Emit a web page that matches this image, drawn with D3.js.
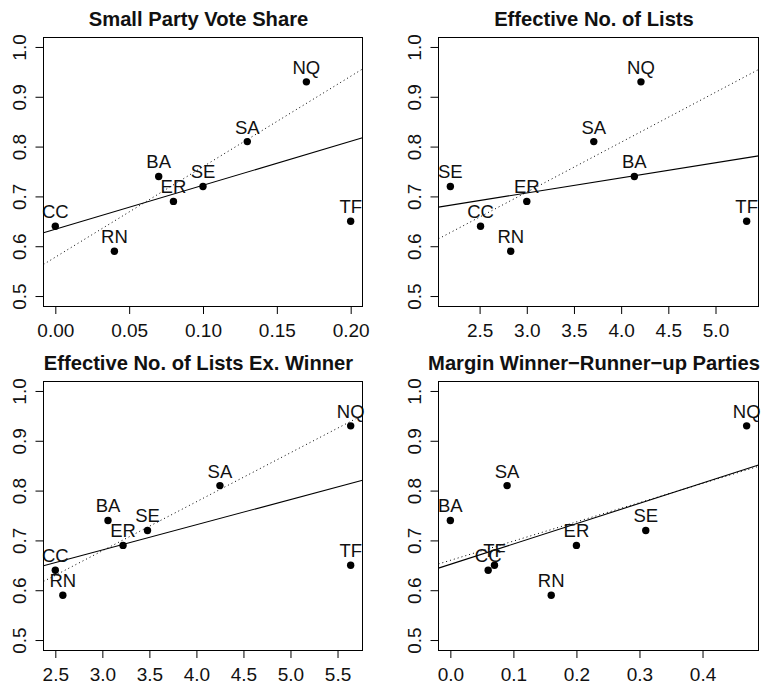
<!DOCTYPE html>
<html>
<head>
<meta charset="utf-8">
<script src="https://cdn.jsdelivr.net/npm/d3@7"></script>
<style>
  html, body { margin: 0; padding: 0; background: #fff; }
  svg { display: block; font-family: "Liberation Sans", Arial, Helvetica, sans-serif; }
</style>
</head>
<body>
<svg id="chart" width="765" height="687"></svg>
<script>
// ---- data ----
const parties = ["CC", "RN", "BA", "ER", "SE", "SA", "NQ", "TF"];
const turnout = [0.64, 0.59, 0.74, 0.69, 0.72, 0.81, 0.93, 0.65];
const smallPartyShare = [0.00, 0.04, 0.07, 0.08, 0.10, 0.13, 0.17, 0.20];
const effLists = [2.51, 2.83, 4.14, 3.00, 2.19, 3.71, 4.21, 5.33];
const effListsExWinner = [2.50, 2.58, 3.06, 3.22, 3.48, 4.25, 5.64, 5.64];
const marginWinnerRunnerUp = [0.06, 0.16, 0.00, 0.20, 0.31, 0.09, 0.47, 0.07];

const titles = ["Small Party Vote Share", "Effective No. of Lists",
                "Effective No. of Lists Ex. Winner", "Margin Winner\u2212Runner\u2212up Parties"];
const xTicks = [
  [0.00, 0.05, 0.10, 0.15, 0.20],
  [2.5, 3.0, 3.5, 4.0, 4.5, 5.0],
  [2.5, 3.0, 3.5, 4.0, 4.5, 5.0, 5.5],
  [0.0, 0.1, 0.2, 0.3, 0.4]
];
const xTickFormats = [".2f", ".1f", ".1f", ".1f"];
const yTicks = [0.5, 0.6, 0.7, 0.8, 0.9, 1.0];
const yLimits = [0.5, 1.0];

// fitted lines: solid = all cases, dotted = excluding TF (intercept, slope)
const fitAllIntercept = [0.634, 0.616, 0.529, 0.652];
const fitAllSlope = [0.883, 0.0303, 0.0506, 0.408];
const fitExIntercept = [0.578, 0.408, 0.384, 0.660];
const fitExSlope = [1.816, 0.1002, 0.0984, 0.386];

const xSeries = [smallPartyShare, effLists, effListsExWinner, marginWinnerRunnerUp];

// ---- layout ----
const cols = [[43.5, 362.5], [438.5, 758.5]];
const rows = [[37, 306], [381, 650]];

const svg = d3.select("#chart");

function rExpand(lo, hi) { const d = (hi - lo) * 0.04; return [lo - d, hi + d]; }

xSeries.forEach((xs, i) => {
  const col = cols[i % 2], row = rows[Math.floor(i / 2)];
  const xDom = rExpand(d3.min(xs), d3.max(xs));
  const yDom = rExpand(yLimits[0], yLimits[1]);
  const x = d3.scaleLinear().domain(xDom).range(col);
  const y = d3.scaleLinear().domain(yDom).range([row[1], row[0]]);
  const g = svg.append("g");

  const clipId = "clip" + i;
  svg.append("clipPath").attr("id", clipId).append("rect")
    .attr("x", col[0]).attr("y", row[0]).attr("width", col[1] - col[0]).attr("height", row[1] - row[0]);

  // title
  g.append("text")
    .attr("x", (col[0] + col[1]) / 2 - 4.5).attr("y", row[0] - 11.5)
    .attr("text-anchor", "middle").attr("font-weight", "bold").attr("font-size", 20.2)
    .attr("fill", "#111")
    .text(titles[i]);

  // x axis
  const xa = g.append("g").attr("transform", `translate(0,${row[1]})`)
    .call(d3.axisBottom(x).tickValues(xTicks[i]).tickFormat(d3.format(xTickFormats[i]))
      .tickSize(8).tickSizeOuter(0));
  xa.select(".domain").remove();
  xa.selectAll("line").attr("stroke", "#000");
  xa.selectAll("text").attr("y", 31).attr("dy", null).attr("font-size", 19)
    .attr("fill", "#111").attr("font-family", null);

  // y axis
  const ya = g.append("g").attr("transform", `translate(${col[0]},0)`)
    .call(d3.axisLeft(y).tickValues(yTicks).tickFormat(d3.format(".1f"))
      .tickSize(8).tickSizeOuter(0));
  ya.select(".domain").remove();
  ya.selectAll("line").attr("stroke", "#000");
  ya.selectAll("text").attr("transform", "rotate(-90)").attr("x", 0).attr("y", -18)
    .attr("dy", null).attr("text-anchor", "middle").attr("font-size", 19)
    .attr("fill", "#111").attr("font-family", null);

  // fit lines
  const lines = g.append("g").attr("clip-path", `url(#${clipId})`);
  const mk = (a, b) => xDom.map(v => [x(v), y(a + b * v)]);
  lines.append("path").attr("d", d3.line()(mk(fitAllIntercept[i], fitAllSlope[i])))
    .attr("fill", "none").attr("stroke", "#000").attr("stroke-width", 1.1);
  lines.append("path").attr("d", d3.line()(mk(fitExIntercept[i], fitExSlope[i])))
    .attr("fill", "none").attr("stroke", "#000").attr("stroke-width", 1)
    .attr("stroke-dasharray", "1,3");

  // points
  g.append("g").selectAll("circle").data(parties).join("circle")
    .attr("cx", (d, j) => x(xs[j])).attr("cy", (d, j) => y(turnout[j]))
    .attr("r", 3.7).attr("fill", "#000");

  // labels
  g.append("g").selectAll("text").data(parties).join("text")
    .attr("x", (d, j) => x(xs[j])).attr("y", (d, j) => y(turnout[j]) - 8)
    .attr("text-anchor", "middle").attr("font-size", 18.5).attr("fill", "#111")
    .text(d => d);

  // box
  g.append("rect")
    .attr("x", col[0]).attr("y", row[0] + 0.5)
    .attr("width", col[1] - col[0]).attr("height", row[1] - row[0])
    .attr("fill", "none").attr("stroke", "#000").attr("stroke-width", 1);
});
</script>
</body>
</html>
